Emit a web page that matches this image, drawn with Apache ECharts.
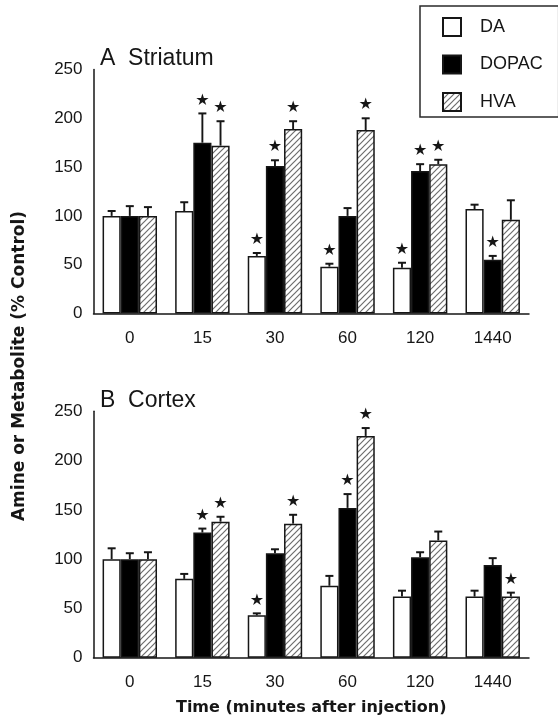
<!DOCTYPE html>
<html>
<head>
<meta charset="utf-8">
<script src="https://cdn.jsdelivr.net/npm/echarts@6/dist/echarts.min.js"></script>
<style>html,body{margin:0;padding:0;background:#fff}#c{width:558px;height:720px}</style>
</head>
<body>
<div id="c"></div>
<script>
// ---- data ----
const categories = ['0', '15', '30', '60', '120', '1440'];
const seriesNames = ['DA', 'DOPAC', 'HVA'];

// A  Striatum
const striatumDA = [100, 105, 59, 48, 47, 107];
const striatumDAErr = [5, 9, 3, 3, 5, 4.5];
const striatumDAStar = [0, 0, 1, 1, 1, 0];
const striatumDOPAC = [100, 175, 151, 100, 146, 55];
const striatumDOPACErr = [10, 30, 6, 8, 7, 4];
const striatumDOPACStar = [0, 1, 1, 0, 1, 1];
const striatumHVA = [100, 172, 189, 188, 153, 96];
const striatumHVAErr = [9, 25, 8, 12, 4.5, 20];
const striatumHVAStar = [0, 1, 1, 1, 1, 0];

// B  Cortex
const cortexDA = [100, 80, 43, 73, 62, 62];
const cortexDAErr = [11, 5, 2, 10, 6, 6];
const cortexDAStar = [0, 0, 1, 0, 0, 0];
const cortexDOPAC = [100, 127, 106, 152, 102, 94];
const cortexDOPACErr = [6, 4, 4, 14, 5, 7];
const cortexDOPACStar = [0, 1, 0, 1, 0, 0];
const cortexHVA = [100, 138, 136, 225, 119, 62];
const cortexHVAErr = [7, 5, 9, 8, 9, 4];
const cortexHVAStar = [0, 1, 1, 1, 0, 1];

const yTicks = [0, 50, 100, 150, 200, 250];

// ---- styles ----
const FONT = 'Liberation Sans, Arial, sans-serif';
const INK = '#161616';

function hatch() {
  const c = document.createElement('canvas');
  c.width = 6; c.height = 6;
  const g = c.getContext('2d');
  g.fillStyle = '#ffffff';
  g.fillRect(0, 0, 6, 6);
  g.strokeStyle = '#6e6e6e';
  g.lineWidth = 1.2;
  g.beginPath();
  g.moveTo(-1, 7); g.lineTo(7, -1);
  g.moveTo(-4, 4); g.lineTo(4, -4);
  g.moveTo(2, 10); g.lineTo(10, 2);
  g.stroke();
  return { image: c, repeat: 'repeat' };
}
const hatchFill = hatch();
const fills = ['#ffffff', '#000000', hatchFill];

const panels = [
  { vals: [striatumDA, striatumDOPAC, striatumHVA], errs: [striatumDAErr, striatumDOPACErr, striatumHVAErr], stars: [striatumDAStar, striatumDOPACStar, striatumHVAStar] },
  { vals: [cortexDA, cortexDOPAC, cortexHVA], errs: [cortexDAErr, cortexDOPACErr, cortexHVAErr], stars: [cortexDAStar, cortexDOPACStar, cortexHVAStar] }
];

const series = [];
panels.forEach((p, pi) => {
  seriesNames.forEach((name, k) => {
    series.push({
      name: name, type: 'bar', xAxisIndex: pi, yAxisIndex: pi,
      data: p.vals[k], barWidth: '25%', barGap: '0%',
      itemStyle: { color: fills[k], borderColor: INK, borderWidth: 1.5 },
      emphasis: { disabled: true }, animation: false, z: 2
    });
  });
  const errData = [];
  seriesNames.forEach((name, k) => {
    p.vals[k].forEach((v, i) => errData.push([i, v, p.errs[k][i], p.stars[k][i], k]));
  });
  series.push({
    type: 'custom', xAxisIndex: pi, yAxisIndex: pi, data: errData, z: 5, animation: false,
    renderItem: function (params, api) {
      const cat = api.value(0), v = api.value(1), e = api.value(2), s = api.value(3), k = api.value(4);
      const band = api.size([1, 0])[0];
      const bw = band * 0.25;
      const p0 = api.coord([cat, v]);
      const p1 = api.coord([cat, v + e]);
      const cx = p0[0] + (k - 1) * bw;
      const children = [
        { type: 'line', shape: { x1: cx, y1: p0[1], x2: cx, y2: p1[1] }, style: { stroke: INK, lineWidth: 1.9 } },
        { type: 'line', shape: { x1: cx - 4, y1: p1[1], x2: cx + 4, y2: p1[1] }, style: { stroke: INK, lineWidth: 2 } }
      ];
      if (s) {
        children.push({ type: 'text', x: cx, y: p1[1] - 13, style: { text: '\u2605', fontSize: 16, fontFamily: 'DejaVu Sans', fill: INK, align: 'center', verticalAlign: 'middle' } });
      }
      return { type: 'group', children: children };
    }
  });
});

const axisCommon = {
  axisLine: { lineStyle: { color: INK, width: 1.5 } },
  axisTick: { lineStyle: { color: INK, width: 1.2 }, length: 7 },
};

const tops = [69.5, 411.3];
const heights = [244, 246.4];

const option = {
  backgroundColor: '#ffffff',
  animation: false,
  title: [
    { text: 'A  Striatum', left: 100, top: 47, padding: 0, textStyle: { fontFamily: FONT, fontSize: 23, fontWeight: 'normal', color: INK } },
    { text: 'B  Cortex', left: 100, top: 389.5, padding: 0, textStyle: { fontFamily: FONT, fontSize: 23, fontWeight: 'normal', color: INK } }
  ],
  legend: {
    data: seriesNames, orient: 'vertical', left: 420, top: 6,
    icon: 'rect', itemWidth: 18, itemHeight: 18, itemGap: 17.5,
    padding: [11, 16, 5, 22], borderColor: '#2a2a2a', borderWidth: 1.5,
    selectedMode: false,
    textStyle: { fontFamily: FONT, fontSize: 18, color: INK, padding: [0, 0, 0, 14] }
  },
  grid: [0, 1].map(i => ({ left: 93.5, right: 29, top: tops[i], height: heights[i] })),
  xAxis: [0, 1].map(i => Object.assign({
    type: 'category', gridIndex: i, data: categories,
    axisLabel: { fontFamily: FONT, fontSize: 17, color: INK, margin: 16 },
    name: i === 1 ? 'Time (minutes after injection)' : '',
    nameLocation: 'middle', nameGap: 42,
    nameTextStyle: { fontFamily: 'DejaVu Sans', fontWeight: 'bold', fontSize: 16, color: INK }
  }, axisCommon)),
  yAxis: [0, 1].map(i => Object.assign({
    type: 'value', gridIndex: i, min: yTicks[0], max: yTicks[yTicks.length - 1], interval: yTicks[1] - yTicks[0],
    splitLine: { show: false },
    axisLabel: { fontFamily: FONT, fontSize: 17, color: INK, margin: 11 }
  }, axisCommon, { axisLine: { show: true, lineStyle: { color: INK, width: 1.5 } } })),
  graphic: [{
    type: 'text', x: 20, y: 366, rotation: Math.PI / 2,
    style: { text: 'Amine or Metabolite (% Control)', fontFamily: 'DejaVu Sans', fontWeight: 'bold', fontSize: 17, fill: INK, align: 'center', verticalAlign: 'middle' }
  }],
  series: series
};

const chart = echarts.init(document.getElementById('c'), null, { renderer: 'canvas' });
chart.setOption(option);
</script>
</body>
</html>
